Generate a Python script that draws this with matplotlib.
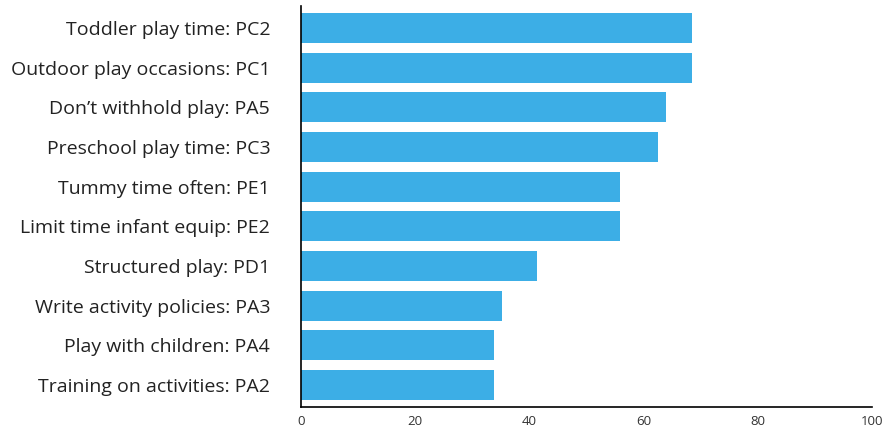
import matplotlib
matplotlib.use('Agg')
import matplotlib.pyplot as plt

# Data (top to bottom as shown)
labels = [
    'Toddler play time: PC2',
    'Outdoor play occasions: PC1',
    "Don\u2019t withhold play: PA5",
    'Preschool play time: PC3',
    'Tummy time often: PE1',
    'Limit time infant equip: PE2',
    'Structured play: PD1',
    'Write activity policies: PA3',
    'Play with children: PA4',
    'Training on activities: PA2',
]
values = [68.6, 68.6, 63.9, 62.5, 56.0, 56.0, 41.4, 35.3, 33.9, 33.9]
x_ticks = [0, 20, 40, 60, 80, 100]

plt.rcParams['font.family'] = ['Open Sans', 'DejaVu Sans']

fig = plt.figure(figsize=(8.84, 4.32), dpi=100)
ax = fig.add_axes([0.3402, 0.0579, 0.6459, 0.9282])

pos = list(range(len(labels)))[::-1]
ax.barh(pos, values, height=0.75, color='#3caee6')

ax.set_xlim(0, 100)
ax.set_ylim(-0.555, len(labels) - 1 + 0.555)
ax.set_yticks(pos)
ax.set_yticklabels(labels, fontsize=14, color='#222222')
ax.set_xticks(x_ticks)
ax.set_xticklabels([str(t) for t in x_ticks], fontsize=9.5, color='#333333')
ax.tick_params(axis='y', length=0, pad=22)
ax.tick_params(axis='x', length=0, pad=6)

for s in ['top', 'right']:
    ax.spines[s].set_visible(False)
for s in ['left', 'bottom']:
    ax.spines[s].set_linewidth(1.2)
    ax.spines[s].set_color('black')

plt.savefig('out.png', dpi=100)
